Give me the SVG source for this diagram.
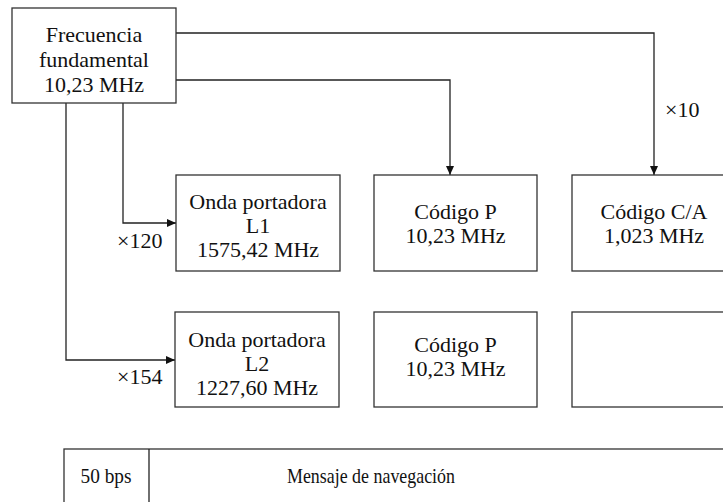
<svg xmlns="http://www.w3.org/2000/svg" width="723" height="502" viewBox="0 0 723 502">
<defs>
<marker id="ah" markerWidth="10" markerHeight="10" refX="9" refY="5" orient="auto" markerUnits="userSpaceOnUse">
<path d="M0,1 L9,5 L0,9 Z" fill="#111"/>
</marker>
</defs>
<rect width="723" height="502" fill="#fff"/>
<g id="connectors" fill="none" stroke="#222" stroke-width="1.3">
<path d="M176,33 H654 V175" marker-end="url(#ah)"/>
<path d="M176,80 H450 V175" marker-end="url(#ah)"/>
<path d="M123,103 V223 H176" marker-end="url(#ah)"/>
<path d="M66,103 V360 H175" marker-end="url(#ah)"/>
</g>
<text font-family="Liberation Serif" font-size="22" fill="#111" x="665" y="117">×10</text>
<text font-family="Liberation Serif" font-size="22" fill="#111" x="117" y="248">×120</text>
<text font-family="Liberation Serif" font-size="22" fill="#111" x="117" y="384">×154</text>
<g id="fundamental">
<rect fill="#fff" stroke="#333" stroke-width="1.3" x="12" y="8" width="164" height="95"/>
<text font-family="Liberation Serif" font-size="22" fill="#111" text-anchor="middle" x="94" y="42">Frecuencia</text>
<text font-family="Liberation Serif" font-size="22" fill="#111" text-anchor="middle" x="94" y="67">fundamental</text>
<text font-family="Liberation Serif" font-size="22" fill="#111" text-anchor="middle" x="94" y="92">10,23 MHz</text>
</g>
<g id="l1">
<rect fill="#fff" stroke="#333" stroke-width="1.3" x="176" y="175" width="164" height="96"/>
<text font-family="Liberation Serif" font-size="22" fill="#111" text-anchor="middle" x="258" y="209">Onda portadora</text>
<text font-family="Liberation Serif" font-size="22" fill="#111" text-anchor="middle" x="258" y="233">L1</text>
<text font-family="Liberation Serif" font-size="22" fill="#111" text-anchor="middle" x="258" y="257">1575,42 MHz</text>
</g>
<g id="p1">
<rect fill="#fff" stroke="#333" stroke-width="1.3" x="374" y="175" width="163" height="96"/>
<text font-family="Liberation Serif" font-size="22" fill="#111" text-anchor="middle" x="455.5" y="219">Código P</text>
<text font-family="Liberation Serif" font-size="22" fill="#111" text-anchor="middle" x="455.5" y="243">10,23 MHz</text>
</g>
<g id="ca">
<rect fill="#fff" stroke="#333" stroke-width="1.3" x="572" y="175" width="164" height="96"/>
<text font-family="Liberation Serif" font-size="22" fill="#111" text-anchor="middle" x="654" y="219">Código C/A</text>
<text font-family="Liberation Serif" font-size="22" fill="#111" text-anchor="middle" x="654" y="243">1,023 MHz</text>
</g>
<g id="l2">
<rect fill="#fff" stroke="#333" stroke-width="1.3" x="175" y="312" width="164" height="95"/>
<text font-family="Liberation Serif" font-size="22" fill="#111" text-anchor="middle" x="257" y="347">Onda portadora</text>
<text font-family="Liberation Serif" font-size="22" fill="#111" text-anchor="middle" x="257" y="371">L2</text>
<text font-family="Liberation Serif" font-size="22" fill="#111" text-anchor="middle" x="257" y="395">1227,60 MHz</text>
</g>
<g id="p2">
<rect fill="#fff" stroke="#333" stroke-width="1.3" x="374" y="312" width="163" height="95"/>
<text font-family="Liberation Serif" font-size="22" fill="#111" text-anchor="middle" x="455.5" y="352">Código P</text>
<text font-family="Liberation Serif" font-size="22" fill="#111" text-anchor="middle" x="455.5" y="376">10,23 MHz</text>
</g>
<g id="empty">
<rect fill="#fff" stroke="#333" stroke-width="1.3" x="572" y="312" width="164" height="95"/>
</g>
<g id="nav">
<rect fill="#fff" stroke="#333" stroke-width="1.3" x="64" y="449" width="680" height="70"/>
<line stroke="#222" stroke-width="1.3" x1="149" y1="449" x2="149" y2="510"/>
<text font-family="Liberation Serif" font-size="22" fill="#111" text-anchor="middle" x="106" y="483" textLength="51" lengthAdjust="spacingAndGlyphs">50 bps</text>
<text font-family="Liberation Serif" font-size="22" fill="#111" text-anchor="middle" x="371" y="483" textLength="168" lengthAdjust="spacingAndGlyphs">Mensaje de navegación</text>
</g>
</svg>
